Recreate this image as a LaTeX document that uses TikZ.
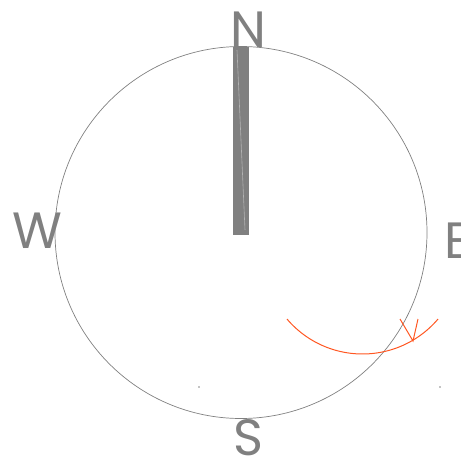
\documentclass[tikz,border=0pt]{standalone}
\usepackage{fontspec}
\setmainfont{Poppins}
\definecolor{cgray}{HTML}{808080}
\definecolor{corange}{HTML}{FF5722}
\begin{document}
\begin{tikzpicture}[x=1pt,y=-1pt,
  dirlabel/.style={inner sep=0pt,text=cgray,font=\fontsize{51}{51}\selectfont},
  ring/.style={draw=cgray,line width=0.7pt},
  needle/.style={fill=cgray,draw=none},
  swing/.style={draw=corange,line width=1pt}]
\useasboundingbox (0,0) rectangle (473,476);
\clip (0,0) rectangle (473,476);
\coordinate (c) at (241,232.5);
\draw[ring] (c) circle[radius=186pt];
\fill[needle] (233,47) rectangle (249,235);
\draw[white,opacity=0.4,line width=0.6pt] (237,50) -- (245,230);
\node[dirlabel] (n) at (248,30) {N};
\node[dirlabel] (w) at (37,231) {W};
\begin{scope}
\clip (440,200) rectangle (460.5,280);
\node[dirlabel,anchor=west] (e) at (444,240.5) {E};
\end{scope}
\node[dirlabel] (s) at (248.5,438) {S};
\draw[swing] plot[domain=220.3:319.7,samples=60,smooth] ({362.5+99*cos(\x)},{255-99*sin(\x)});
\coordinate (tip) at (413,341);
\coordinate (arm1) at (400,319);
\coordinate (arm2) at (418,319);
\draw[swing] (arm1) -- (tip) -- (arm2);
\fill[black] (199,387) circle[radius=0.7pt];
\fill[black] (440,387) circle[radius=0.7pt];
\end{tikzpicture}
\end{document}
